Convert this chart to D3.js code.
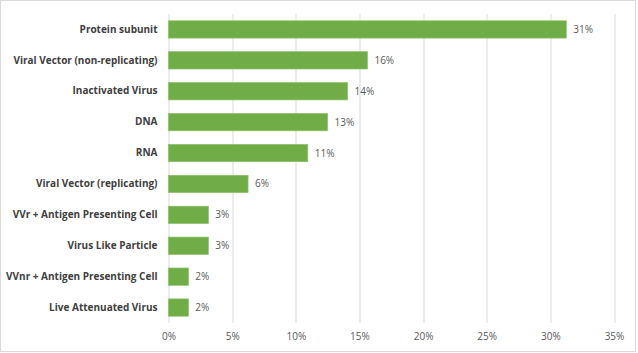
<!DOCTYPE html>
<html>
<head>
<meta charset="utf-8">
<script src="https://cdn.jsdelivr.net/npm/d3@7"></script>
<style>
  body { margin: 0; background: #fff; }
  text { font-family: "Open Sans", sans-serif; }
</style>
</head>
<body>
<script>
var categories = [
    "Protein subunit",
    "Viral Vector (non-replicating)",
    "Inactivated Virus",
    "DNA",
    "RNA",
    "Viral Vector (replicating)",
    "VVr + Antigen Presenting Cell",
    "Virus Like Particle",
    "VVnr + Antigen Presenting Cell",
    "Live Attenuated Virus"
];
var shares = [31.25, 15.63, 14.06, 12.5, 10.94, 6.25, 3.13, 3.13, 1.56, 1.56];
var xTicks = [0, 5, 10, 15, 20, 25, 30, 35];

var svgWidth = 638;
var svgHeight = 353;

var margin = {top: 14, right: 24, bottom: 30, left: 168.5};
var chartWidth = svgWidth - margin.left - margin.right;
var chartHeight = svgHeight - margin.top - margin.bottom;

var svg = d3.select("body").append("svg")
    .attr("width", svgWidth)
    .attr("height", svgHeight);

// outer frame
svg.append("rect")
    .attr("x", 0.5).attr("y", 0.5)
    .attr("width", svgWidth - 3).attr("height", svgHeight - 2)
    .attr("fill", "none")
    .attr("stroke", "#d9d9d9");

var chartGroup = svg.append("g")
    .attr("transform", `translate(${margin.left}, ${margin.top})`);

var x = d3.scaleLinear().domain([0, 35]).range([0, chartWidth]);
var y = d3.scaleBand().domain(categories).range([0, chartHeight]).paddingInner(0.44).paddingOuter(0.22);

// gridlines
chartGroup.selectAll(".grid")
    .data(xTicks)
    .enter()
    .append("line")
    .attr("class", "grid")
    .attr("x1", d => Math.round(x(d)) + 0.5)
    .attr("x2", d => Math.round(x(d)) + 0.5)
    .attr("y1", 0)
    .attr("y2", chartHeight)
    .attr("stroke", "#d9d9d9")
    .attr("stroke-width", 1);

// x tick labels
var xAxis = d3.axisBottom(x).tickValues(xTicks).tickFormat(d => d + "%").tickSize(0).tickPadding(10);
var xg = chartGroup.append("g")
    .attr("transform", `translate(0, ${chartHeight})`)
    .call(xAxis);
xg.select(".domain").remove();
xg.selectAll("text")
    .attr("fill", "#595959")
    .style("font-size", "10px")
    .style("font-family", "Open Sans, sans-serif");

// category labels
var yAxis = d3.axisLeft(y).tickSize(0).tickPadding(11);
var yg = chartGroup.append("g").call(yAxis);
yg.select(".domain").remove();
yg.selectAll("text")
    .attr("fill", "#404040")
    .style("font-size", "10px")
    .style("font-weight", "bold")
    .style("font-family", "Open Sans, sans-serif");

// bars
chartGroup.selectAll(".bar")
    .data(shares)
    .enter()
    .append("rect")
    .attr("class", "bar")
    .attr("x", 0)
    .attr("y", (d, i) => y(categories[i]))
    .attr("width", d => x(d))
    .attr("height", y.bandwidth())
    .attr("fill", "#70ad47")
    .attr("stroke", "#8cc168")
    .attr("stroke-width", 0.7);

// value labels
chartGroup.selectAll(".val")
    .data(shares)
    .enter()
    .append("text")
    .attr("class", "val")
    .attr("x", d => x(d) + 7)
    .attr("y", (d, i) => y(categories[i]) + y.bandwidth() / 2)
    .attr("dy", "0.35em")
    .attr("fill", "#595959")
    .style("font-size", "10px")
    .text(d => Math.round(d) + "%");
</script>
</body>
</html>
